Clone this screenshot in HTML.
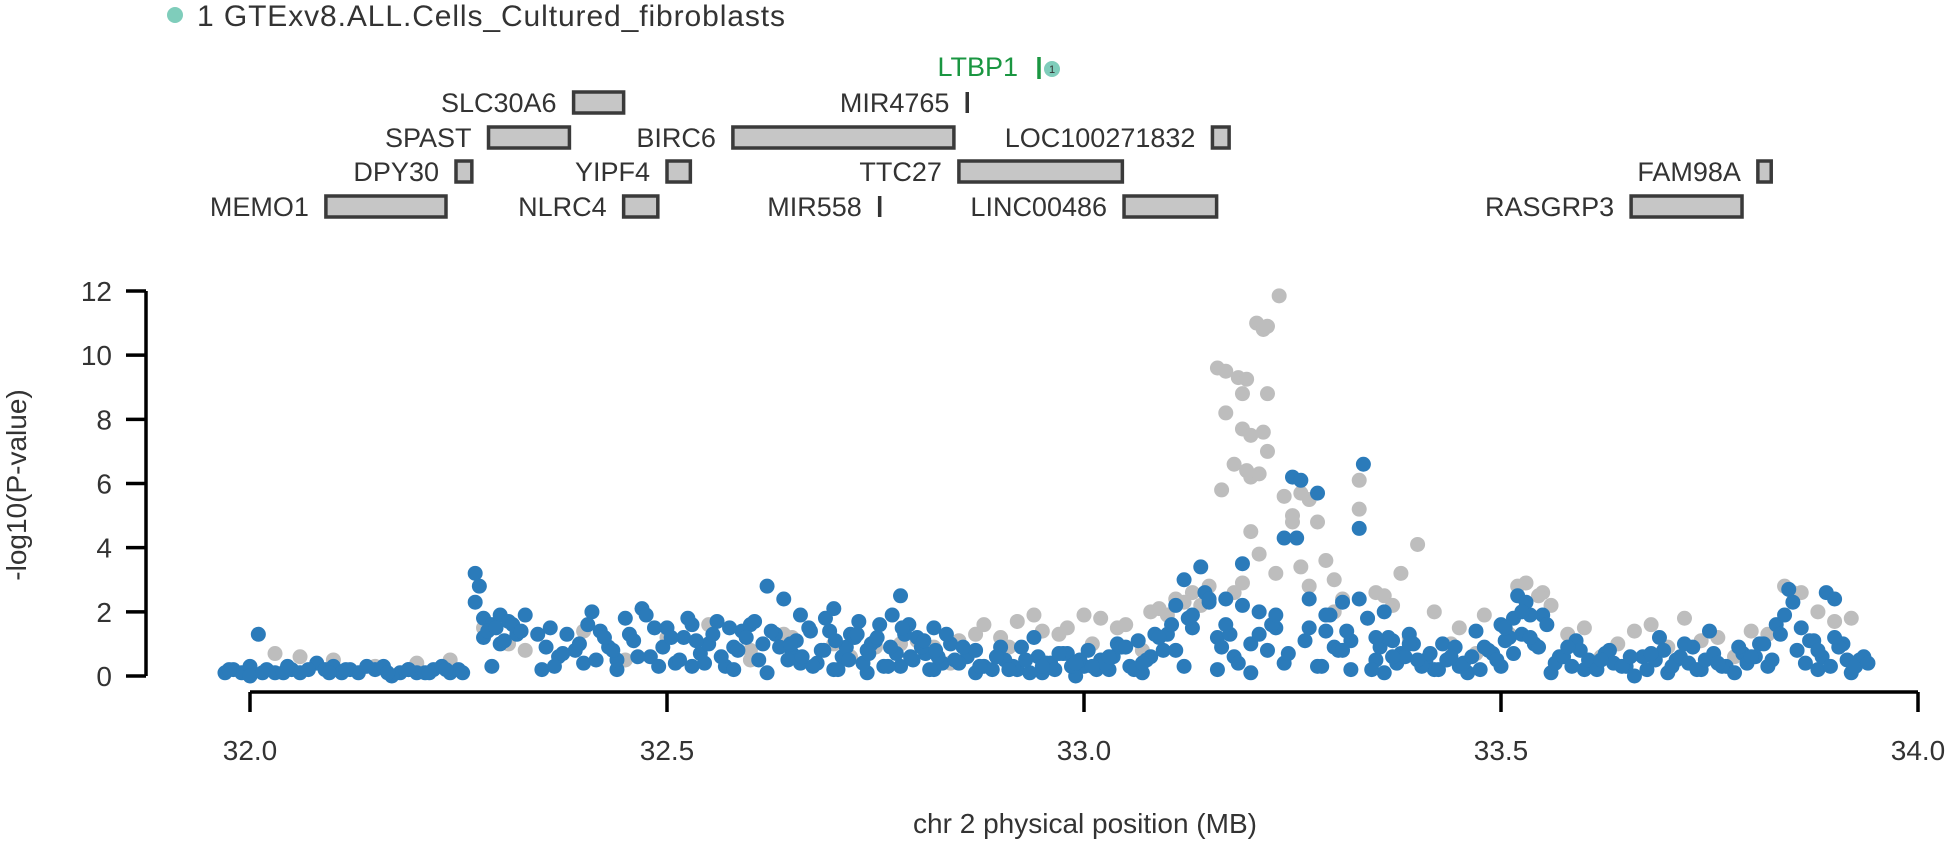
<!DOCTYPE html>
<html><head><meta charset="utf-8">
<style>
html,body{margin:0;padding:0;background:#fff;}
body{width:1949px;height:843px;overflow:hidden;font-family:"Liberation Sans",sans-serif;}
svg text{font-family:"Liberation Sans",sans-serif;}
</style></head>
<body>
<svg id="chart" width="1949" height="843" viewBox="0 0 1949 843" xmlns="http://www.w3.org/2000/svg">
  <g>
    <circle cx="175" cy="15" r="8" fill="#7fcdbb"/>
    <text x="197" y="26" font-size="30" fill="#333" textLength="588">1 GTExv8.ALL.Cells_Cultured_fibroblasts</text>
  </g>
  <g id="genes"></g>
  <g id="axes"></g>
  <g id="gray"></g>
  <g id="blue"></g>
  <text x="1085" y="833" font-size="28" text-anchor="middle" fill="#333">chr 2 physical position (MB)</text>
  <text transform="translate(26,485) rotate(-90)" font-size="28" text-anchor="middle" fill="#333">-log10(P-value)</text>
</svg>
<script>
const xTicks = [32.0, 32.5, 33.0, 33.5, 34.0];
const xTickLabels = ["32.0", "32.5", "33.0", "33.5", "34.0"];
const yTicks = [0, 2, 4, 6, 8, 10, 12];
const yTickLabels = ["0", "2", "4", "6", "8", "10", "12"];

const geneNames = ["SLC30A6","MIR4765","SPAST","BIRC6","LOC100271832","DPY30","YIPF4","TTC27","FAM98A","MEMO1","NLRC4","MIR558","LINC00486","RASGRP3"];
const geneStarts = [32.388,32.859,32.286,32.579,33.154,32.247,32.500,32.850,33.808,32.091,32.448,32.754,33.048,33.656];
const geneEnds   = [32.448,32.861,32.383,32.844,33.174,32.266,32.528,33.046,33.824,32.235,32.489,32.756,33.159,33.789];
const geneRows   = [0,0,1,1,1,2,2,2,2,3,3,3,3,3];

const grayX = [33.234,33.207,33.22,33.215,33.16,33.17,33.185,33.195,33.19,33.22,33.17,33.19,33.2,33.215,33.18,33.195,33.2,33.21,33.22,33.165,33.24,33.25,33.27,33.25,33.28,33.33,33.33,33.4,33.2,33.26,33.23,33.21,33.19,33.3,33.36,33.15,33.13,33.12,33.1,33.08,33.05,33.02,33.0,32.98,32.95,32.92,32.9,32.87,32.85,32.82,33.42,33.45,33.48,33.52,33.55,33.58,33.6,33.64,33.68,33.72,33.76,33.8,33.84,33.88,33.9,32.28,32.31,32.33,32.4,32.45,32.5,32.55,32.6,32.65,32.7,32.75,32.8,32.03,32.1,32.15,32.2,32.24,33.38,33.35,33.31,33.29,33.27,33.53,33.545,33.86,
32.94,32.97,33.01,33.04,33.07,33.09,33.11,33.14,33.18,33.26,33.3,33.34,33.37,33.39,33.44,33.47,33.51,33.56,33.62,33.66,33.7,33.74,33.78,33.82,33.85,33.92,32.6,32.64,32.72,32.78,32.84,32.88,32.91,32.06];
const grayY = [11.85,11.0,10.9,10.8,9.6,9.5,9.3,9.25,8.8,8.8,8.2,7.7,7.5,7.6,6.6,6.4,6.2,6.3,7.0,5.8,5.6,5.0,5.5,4.8,4.8,6.1,5.2,4.1,4.5,5.7,3.2,3.8,2.9,3.0,2.5,2.8,2.6,2.3,1.9,2.0,1.6,1.8,1.9,1.5,1.4,1.7,1.2,1.3,1.1,0.9,2.0,1.5,1.9,2.8,2.6,1.3,1.5,1.0,1.6,1.8,1.2,1.4,2.8,2.0,1.7,1.5,1.0,0.8,1.4,0.5,1.2,1.6,0.5,1.2,1.0,0.9,1.1,0.7,0.5,0.3,0.4,0.5,3.2,2.6,2.4,3.6,2.8,2.9,2.5,2.6,
1.9,1.3,1.0,1.5,0.8,2.1,2.4,2.2,2.6,3.4,2.0,1.8,2.2,1.2,1.0,0.7,1.3,2.2,0.6,1.4,0.9,1.1,0.6,1.3,2.6,1.8,0.8,1.3,0.6,1.0,0.4,1.6,0.9,0.6];

const blueX = [31.97,31.98,31.99,32.0,32.01,32.02,32.03,32.05,32.06,32.08,32.09,32.1,32.12,32.13,32.15,32.16,32.18,32.19,32.2,32.22,32.23,32.24,32.25,
32.27,32.27,32.28,32.28,32.29,32.3,32.3,32.31,32.32,32.33,
32.36,32.37,32.38,32.39,32.4,32.41,32.42,32.43,32.44,32.45,32.46,32.47,32.48,32.49,
32.5,32.51,32.52,32.53,32.54,32.55,32.56,32.57,32.58,32.59,32.6,32.61,32.62,32.63,32.64,32.65,32.66,32.67,32.68,32.69,
32.7,32.71,32.72,32.73,32.74,32.75,32.76,32.77,32.78,32.79,32.8,32.81,32.82,32.83,32.84,
32.86,32.88,32.9,32.92,32.94,32.96,32.98,33.0,33.02,33.04,33.06,33.08,
33.1,33.11,33.12,33.13,33.14,33.15,33.16,33.17,33.18,33.19,33.2,33.21,33.22,33.23,33.24,33.25,33.255,33.26,33.27,33.28,33.29,33.3,33.31,33.32,33.33,33.335,33.34,33.35,33.36,33.37,33.38,33.39,
33.41,33.43,33.45,33.47,33.49,33.5,33.51,33.52,33.53,33.54,33.55,33.57,33.59,33.61,33.63,33.65,33.67,33.69,33.71,33.73,33.75,33.77,33.79,33.81,33.83,33.845,33.85,33.87,33.89,33.9,33.91,33.93,
32.0,32.04,32.11,32.17,32.21,32.29,32.35,32.44,32.53,32.58,32.62,32.66,32.7,32.74,32.78,32.82,32.87,32.91,32.95,32.99,33.03,33.07,33.12,33.16,33.2,33.24,33.28,33.32,33.36,33.42,33.46,33.5,33.56,33.6,33.66,33.7,33.74,33.78,33.82,33.88,33.92,
31.975,32.015,32.045,32.07,32.095,32.115,32.14,32.165,32.19,32.215,32.235,32.255,
32.645,32.655,32.675,32.685,32.695,32.705,32.715,32.725,32.735,32.745,32.755,32.765,32.775,32.785,32.795,32.805,32.815,32.825,
32.85,32.87,32.89,32.905,32.915,32.925,32.935,32.945,32.955,32.965,32.975,32.985,32.995,33.005,33.015,33.025,33.035,33.045,33.055,33.065,33.075,33.085,33.095,33.105,
33.125,33.145,33.165,33.175,33.185,33.225,33.245,33.265,33.285,33.295,33.305,33.315,33.345,33.355,33.365,33.375,33.385,33.395,
33.405,33.415,33.425,33.435,33.445,33.455,33.465,33.475,33.485,33.495,33.505,33.515,33.525,33.535,33.545,33.565,33.575,33.585,33.595,33.605,33.615,33.625,33.635,33.645,33.655,33.675,33.685,33.695,33.705,33.715,33.725,33.735,33.745,33.755,33.765,33.785,33.795,33.805,33.815,33.825,33.835,33.855,33.865,33.875,33.885,33.895,33.905,33.915,33.925,33.935,33.94,
32.275,32.285,32.295,32.305,32.315,32.325,32.345,32.355,32.365,32.375,32.395,32.405,32.415,32.425,32.435,32.455,32.465,32.475,32.485,32.495,32.505,32.515,32.525,32.535,32.545,32.555,32.565,32.575,32.585,32.595,32.605,32.615,32.625,32.635,
32.648,32.662,32.672,32.688,32.702,32.718,32.728,32.742,32.752,32.768,32.782,32.792,32.808,32.822,32.835,32.845,32.855,32.875,32.895,32.91,32.93,32.95,32.97,32.99,33.01,33.03,33.05,33.07,33.09,33.11,33.13,33.15,33.17,33.19,33.21,33.23,
33.27,33.29,33.31,33.33,33.35,33.37,33.39,33.4,33.44,33.48,33.505,33.515,33.525,33.535,33.555,33.58,33.62,33.68,33.72,33.76,33.8,33.84,33.86,33.88,33.9];
const blueY = [0.1,0.2,0.1,0.3,1.3,0.2,0.1,0.2,0.1,0.4,0.2,0.3,0.2,0.1,0.2,0.3,0.1,0.2,0.1,0.2,0.3,0.1,0.2,
3.2,2.3,1.8,1.2,1.6,1.9,1.0,1.7,1.3,1.9,
1.5,0.6,1.3,0.8,0.4,2.0,1.4,0.9,0.2,1.8,1.1,2.1,0.6,0.3,
1.5,0.4,1.2,1.6,0.7,1.0,1.7,0.3,0.9,1.4,1.6,0.5,2.8,1.3,2.4,0.7,1.9,1.5,0.4,1.8,
2.1,0.6,1.3,1.7,0.8,1.1,0.3,1.9,2.5,1.6,1.2,0.7,1.5,0.4,1.0,
0.6,0.3,0.9,0.2,1.2,0.4,0.7,0.3,0.5,1.0,0.2,0.6,
1.3,2.2,3.0,1.5,3.4,2.3,1.2,2.4,0.6,3.5,1.0,2.0,0.8,1.5,4.3,6.2,4.3,6.1,2.4,5.7,1.4,0.9,2.3,1.1,4.6,6.6,1.8,0.5,2.0,1.1,0.7,1.3,
0.5,1.0,0.3,1.4,0.7,1.6,1.2,2.5,2.3,1.0,1.9,0.6,1.1,0.4,0.8,0.3,0.6,1.2,0.5,0.9,1.4,0.3,0.7,1.0,1.6,2.7,2.3,1.1,2.6,2.4,1.0,0.5,
0.0,0.1,0.1,0.0,0.1,0.3,0.2,0.5,0.3,0.2,0.1,0.4,0.2,0.1,0.3,0.2,0.1,0.2,0.1,0.0,0.2,0.1,0.3,0.2,0.1,0.4,0.3,0.2,0.1,0.2,0.1,0.3,0.1,0.2,0.0,0.1,0.2,0.1,0.3,0.2,0.1,
0.2,0.1,0.3,0.2,0.1,0.2,0.3,0.1,0.2,0.1,0.2,0.1,
0.5,1.1,0.3,0.8,1.4,0.2,0.9,1.2,0.4,1.0,1.6,0.3,0.7,1.3,0.5,0.9,0.2,0.6,
0.4,0.8,0.2,0.5,0.3,0.9,0.1,0.6,0.4,0.2,0.7,0.3,0.5,0.8,0.2,0.4,0.6,0.9,0.3,1.1,0.5,1.3,0.8,1.6,
1.8,2.6,0.9,1.3,0.4,1.6,0.7,1.1,0.3,1.9,0.8,1.4,0.2,0.9,1.2,0.4,0.6,1.0,
0.3,0.7,0.2,0.5,0.9,0.4,0.6,0.2,0.8,0.5,1.1,0.7,1.3,1.9,0.9,0.4,0.6,0.3,0.8,0.5,0.2,0.7,0.4,0.3,0.6,0.2,0.5,0.8,0.3,0.6,0.4,0.2,0.5,0.7,0.3,0.9,0.4,0.6,1.0,0.5,1.3,0.8,0.4,1.1,0.6,0.3,0.9,0.5,0.3,0.6,0.4,
2.8,1.4,1.5,1.1,1.6,1.4,1.3,0.9,0.3,0.7,1.0,1.6,0.5,1.2,0.8,1.3,0.6,1.9,1.5,0.9,1.2,0.5,1.8,1.1,0.4,1.3,0.6,1.5,0.8,1.2,1.7,1.0,1.4,0.9,
1.0,0.6,1.4,0.8,1.1,0.5,1.3,0.7,1.2,0.9,1.5,0.6,1.1,0.8,1.3,0.5,0.9,0.3,0.6,0.2,0.5,0.3,0.7,0.4,0.3,0.6,0.9,0.4,1.2,0.8,1.9,2.4,1.6,2.2,1.3,1.9,
1.5,1.9,0.8,2.4,1.2,0.6,1.0,0.5,0.6,0.9,1.5,1.8,2.0,1.2,1.6,0.9,0.5,0.7,1.0,0.4,0.6,1.9,1.5,0.8,1.2];

const NS = "http://www.w3.org/2000/svg";
const X0 = 250, X1 = 1918, Y0 = 676, Y1 = 291;
function xs(v){ return X0 + (v - 32) / 2 * (X1 - X0); }
function ys(v){ return Y0 - v / 12 * (Y0 - Y1); }
function mk(tag, attrs, parent){
  const e = document.createElementNS(NS, tag);
  for (const k in attrs) e.setAttribute(k, attrs[k]);
  parent.appendChild(e);
  return e;
}
const axes = document.getElementById("axes");
const ax = mk("line", {x1:146, y1:ys(0), x2:146, y2:ys(12), stroke:"#000", "stroke-width":3.5}, axes);


yTicks.forEach((t, i) => {
  const tk = mk("line", {x1:126, y1:ys(t), x2:146, y2:ys(t), stroke:"#000", "stroke-width":3.5}, axes);
  
  
  const tl = mk("text", {x:112, y:ys(t) + 10, "font-size":28, "text-anchor":"end", fill:"#333"}, axes);
  tl.textContent = yTickLabels[i];
  
  
});
const bx = mk("line", {x1:xs(32), y1:692, x2:xs(34), y2:692, stroke:"#000", "stroke-width":3.5}, axes);


xTicks.forEach((t, i) => {
  const tk = mk("line", {x1:xs(t), y1:692, x2:xs(t), y2:712, stroke:"#000", "stroke-width":3.5}, axes);
  
  
  const tl = mk("text", {x:xs(t), y:760, "font-size":28, "text-anchor":"middle", fill:"#333"}, axes);
  tl.textContent = xTickLabels[i];
  
  
});

const genes = document.getElementById("genes");
const rowY = [92, 127, 161, 196];
geneNames.forEach((n, i) => {
  const a = xs(geneStarts[i]), b = xs(geneEnds[i]), y = rowY[geneRows[i]];
  let g;
  if (b - a < 5) {
    g = mk("line", {x1:(a+b)/2, y1:y, x2:(a+b)/2, y2:y+21, stroke:"#333", "stroke-width":3.5}, genes);
  } else {
    g = mk("rect", {x:a, y:y, width:b-a, height:21, fill:"#c6c6c6", stroke:"#3a3a3a", "stroke-width":3.5}, genes);
  }
  
  
  const t = mk("text", {x:a - 17, y:y + 20, "font-size":27, "text-anchor":"end", fill:"#333"}, genes);
  t.textContent = n;
  
  
});
const lt = mk("text", {x:1018, y:76, "font-size":27, "text-anchor":"end", fill:"#1a9641"}, genes);
lt.textContent = "LTBP1";


const ll = mk("line", {x1:1039, y1:57, x2:1039, y2:79, stroke:"#1a9641", "stroke-width":3.5}, genes);


const lc = mk("circle", {cx:1052, cy:69, r:8, fill:"#7fcdbb"}, genes);


const lct = mk("text", {x:1052, y:73, "font-size":11, "text-anchor":"middle", fill:"#333"}, genes);
lct.textContent = "1";



const gg = document.getElementById("gray");
grayX.forEach((v, i) => {
  const c = mk("circle", {cx:xs(v), cy:ys(grayY[i]), r:7.5, fill:"#bdbdbd"}, gg);
  
  
});
const bg = document.getElementById("blue");
blueX.forEach((v, i) => {
  const c = mk("circle", {cx:xs(v), cy:ys(blueY[i]), r:7.5, fill:"#2b7bba"}, bg);
  
  
});
</script>
</body></html>
